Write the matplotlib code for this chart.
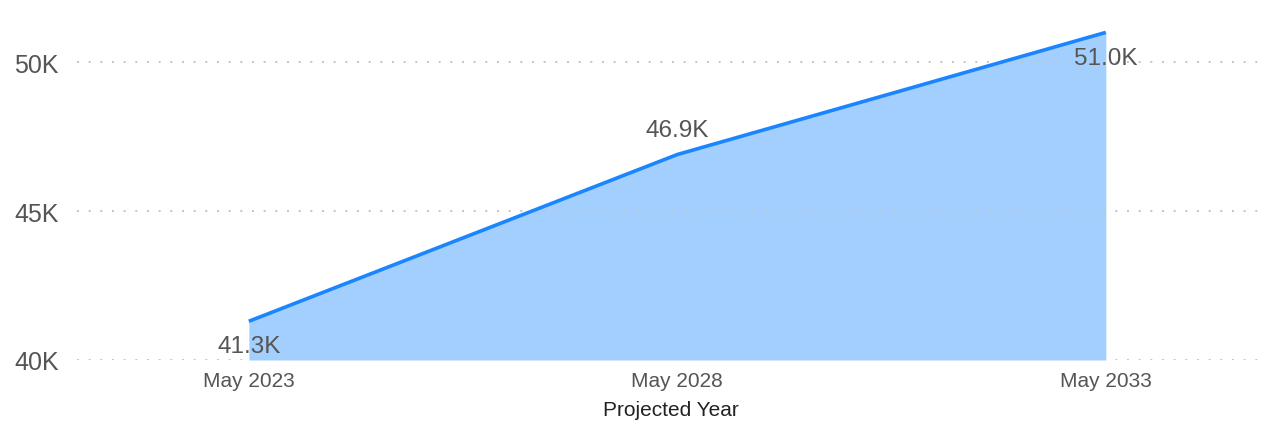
import numpy as np
import matplotlib.pyplot as plt

# projected values at each year
years = ["May 2023", "May 2028", "May 2033"]
values = [41300, 46900, 51000]
labels = ["41.3K", "46.9K", "51.0K"]
label_offsets = [-25, 25, -26]  # px, below/above the point

yticks = [40000, 45000, 50000]
ytick_labels = ["40K", "45K", "50K"]

plt.rcParams['font.family'] = ['Liberation Sans', 'DejaVu Sans']

fig = plt.figure(figsize=(12.75, 4.27), dpi=100)
ax = fig.add_axes([0.0604, 0.1546, 0.9316, 0.8404])
ax.set_axisbelow(True)  # grid at zorder 0.5, above the fill

x = np.arange(len(years))
ax.fill_between(x, 40000, values, color='#a3cfff', linewidth=0, zorder=0.2)
ax.plot(x, values, color='#1a85ff', linewidth=2.6, solid_capstyle='butt', zorder=3)

for xi, v, lab, off in zip(x, values, labels, label_offsets):
    ax.annotate(lab, (xi, v), xytext=(0, off * 0.72), textcoords='offset points',
                ha='center', va='center', fontsize=17.5, color='#555555', zorder=4)

ax.set_xlim(-0.401, 2.371)
ax.set_ylim(40000, 52050)
ax.set_xticks(x)
ax.set_xticklabels(years)
ax.set_yticks(yticks)
ax.set_yticklabels(ytick_labels)

ax.grid(axis='y', linestyle=(0, (1, 5)), color='#c4c4c4', linewidth=1.4)
ax.grid(axis='x', visible=False)
for s in ax.spines.values():
    s.set_visible(False)
ax.tick_params(axis='y', length=0, pad=13, labelsize=18, labelcolor='#555555')
ax.tick_params(axis='x', length=0, pad=8, labelsize=15, labelcolor='#555555')
ax.set_xlabel("Projected Year", fontsize=15, color='#222222', labelpad=7)

fig.savefig("out.png", dpi=100)
